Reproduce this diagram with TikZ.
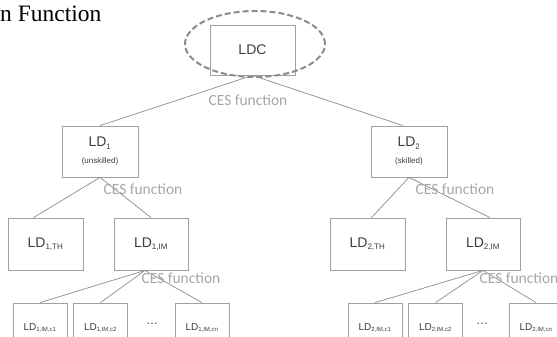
\documentclass[tikz,border=0pt]{standalone}
\usepackage{fontspec}
\newfontfamily\boxfont{Liberation Sans}
\newfontfamily\cesfont{Carlito}
\newfontfamily\titlefont{Liberation Serif}
\usetikzlibrary{shapes.geometric}
\definecolor{cEdge}{HTML}{A0A0A0}
\definecolor{cLine}{HTML}{8C8C8C}
\definecolor{cText}{HTML}{3C3C3C}
\definecolor{cCES}{HTML}{A6A6A6}

\begin{document}
\begin{tikzpicture}[x=1pt, y=-1pt,
  box/.style={draw=cEdge, line width=0.8pt, inner sep=0pt, align=center, text=cText, font=\boxfont\fontsize{14}{16}\selectfont},
  smallbox/.style={box, minimum width=54, minimum height=50, font=\boxfont\fontsize{10}{12}\selectfont},
  ces/.style={text=cCES, font=\cesfont\fontsize{15.5}{17}\selectfont, inner sep=0pt},
  link/.style={draw=cLine, line width=0.7pt}
]
\useasboundingbox (0,0) rectangle (557,337);
\node[anchor=base west, inner sep=0pt, font=\titlefont\fontsize{23.5}{26}\selectfont] (title) at (0,22) {n Function};

% top level
\node[box, minimum width=85, minimum height=50] (ldc) at (252.5,50) {LDC};
\node[ellipse, draw=cLine, dashed, line width=2pt, dash pattern=on 6pt off 3pt,
  minimum width=140, minimum height=66] (ring) at (255,44) {};

% skill groups
\node[box, minimum width=76, minimum height=51] (ld1) at (100,151.5)
  {LD\textsubscript{\fontsize{8}{9}\selectfont 1}\\[1pt]{\fontsize{8}{9}\selectfont (unskilled)}};
\node[box, minimum width=76, minimum height=51] (ld2) at (409,151.5)
  {LD\textsubscript{\fontsize{8}{9}\selectfont 2}\\[1pt]{\fontsize{8}{9}\selectfont (skilled)}};

% TH / IM
\node[box, minimum width=75, minimum height=52] (ld1th) at (45.5,244) {LD\textsubscript{\fontsize{8}{9}\selectfont 1,TH}};
\node[box, minimum width=74, minimum height=52] (ld1im) at (151,244) {LD\textsubscript{\fontsize{8}{9}\selectfont 1,IM}};
\node[box, minimum width=75, minimum height=52] (ld2th) at (367.5,244) {LD\textsubscript{\fontsize{8}{9}\selectfont 2,TH}};
\node[box, minimum width=74, minimum height=52] (ld2im) at (483,244) {LD\textsubscript{\fontsize{8}{9}\selectfont 2,IM}};

% country level
\node[smallbox] (ld1c1) at (40,328) {LD\textsubscript{\fontsize{6}{7}\selectfont 1,IM,c1}};
\node[smallbox] (ld1c2) at (100.5,328) {LD\textsubscript{\fontsize{6}{7}\selectfont 1,IM,c2}};
\node[text=cText, font=\boxfont\fontsize{12}{14}\selectfont] (dots1) at (152,324) {\dots};
\node[smallbox] (ld1cn) at (202,328) {LD\textsubscript{\fontsize{6}{7}\selectfont 1,IM,cn}};
\node[smallbox] (ld2c1) at (375,328) {LD\textsubscript{\fontsize{6}{7}\selectfont 2,IM,c1}};
\node[smallbox] (ld2c2) at (435.5,328) {LD\textsubscript{\fontsize{6}{7}\selectfont 2,IM,c2}};
\node[text=cText, font=\boxfont\fontsize{12}{14}\selectfont] (dots2) at (482,324) {\dots};
\node[smallbox] (ld2cn) at (536,328) {LD\textsubscript{\fontsize{6}{7}\selectfont 2,IM,cn}};

% links
\draw[link] (ldc.south) -- (ld1.north);
\draw[link] (ldc.south) -- ([xshift=-6]ld2.north);
\draw[link] (ld1.south) -- ([xshift=-12]ld1th.north);
\draw[link] (ld1.south) -- (ld1im.north);
\draw[link] (ld2.south) -- ([xshift=4]ld2th.north);
\draw[link] (ld2.south) -- ([xshift=7]ld2im.north);
\foreach \c in {ld1c1, ld1c2, ld1cn}
  \draw[link] ([xshift=-6]ld1im.south) -- (\c.north);
\foreach \c in {ld2c1, ld2c2, ld2cn}
  \draw[link] (ld2im.south) -- (\c.north);

% CES labels
\node[ces] (cesA) at (248,100) {CES function};
\node[ces] (cesB) at (143,189) {CES function};
\node[ces] (cesC) at (455,189) {CES function};
\node[ces] (cesD) at (181,278) {CES function};
\node[ces] (cesE) at (519,278) {CES function};
\end{tikzpicture}
\end{document}
